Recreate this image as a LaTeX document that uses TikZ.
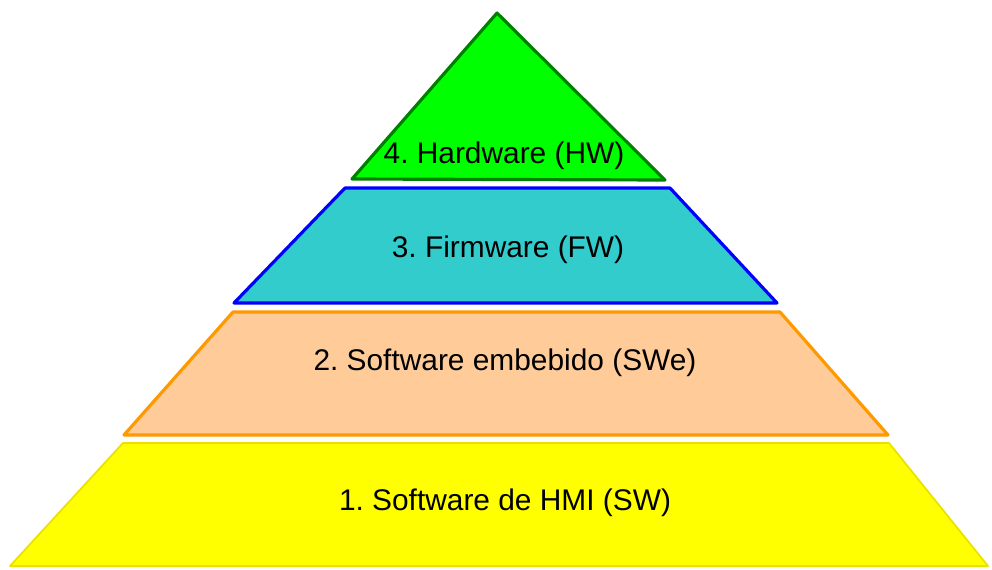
\documentclass[tikz,border=0pt]{standalone}
\usepackage{fontspec}
\setmainfont{Liberation Sans}
\usetikzlibrary{positioning}
\definecolor{hwfill}{RGB}{0,255,0}
\definecolor{hwline}{RGB}{0,128,0}
\definecolor{fwfill}{RGB}{51,204,204}
\definecolor{fwline}{RGB}{0,0,255}
\definecolor{swefill}{RGB}{255,204,153}
\definecolor{sweline}{RGB}{255,153,0}
\definecolor{swfill}{RGB}{255,255,0}
\definecolor{swline}{RGB}{235,225,0}
\frenchspacing
\tikzset{%
  layer/.style = { line width=1.8pt, line join=round },
  caption/.style = { font=\fontsize{17}{20}\selectfont, inner sep=0pt }
}

\begin{document}
\begin{tikzpicture}[x=0.02cm,y=-0.02cm]

  \useasboundingbox (0,0) rectangle (992,569);

  % Layer 4
  \draw[layer,fill=hwfill,draw=hwline] (497,13) -- (665,180) -- (352,179) -- cycle;
  \node[caption] (hw) at (504,156) {4. Hardware (HW)};

  % Layer 3
  \draw[layer,fill=fwfill,draw=fwline] (345,188) -- (670,188) -- (777,303) -- (234,303) -- cycle;
  \node[caption] (fw) at (508,250) {3. Firmware (FW)};

  % Layer 2
  \draw[layer,fill=swefill,draw=sweline] (233,312) -- (780,312) -- (888,435) -- (124,435) -- cycle;
  \node[caption] (swe) at (505,363) {2. Software embebido (SWe)};

  % Layer 1
  \draw[layer,line width=1pt,fill=swfill,draw=swline] (123,443) -- (889,443) -- (988,566) -- (10,566) -- cycle;
  \node[caption] (sw) at (505,503) {1. Software de HMI (SW)};

\end{tikzpicture}
\end{document}
